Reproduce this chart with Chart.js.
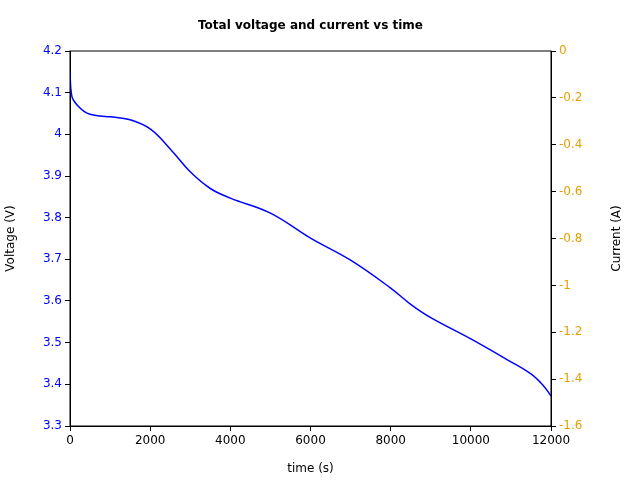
<!DOCTYPE html>
<html>
<head>
<script src="https://cdn.jsdelivr.net/npm/chart.js@4"></script>
<style>body{margin:0;background:#fff}#wrap{width:640px;height:480px}</style>
</head>
<body>
<div id="wrap"><canvas id="myChart"></canvas></div>
<script>
const times = [0, 20, 50, 100, 200, 350, 500, 750, 1000, 1500, 2000, 2500, 3000, 3500, 4000, 5000, 6000, 7000, 8000, 8500, 9000, 10000, 11000, 11500, 11800, 12000];
const voltage = [4.15, 4.11, 4.09, 4.08, 4.068, 4.055, 4.048, 4.044, 4.042, 4.035, 4.013, 3.965, 3.91, 3.87, 3.847, 3.811, 3.751, 3.698, 3.631, 3.592, 3.56, 3.509, 3.454, 3.425, 3.398, 3.372];
const xTicks = [0, 2000, 4000, 6000, 8000, 10000, 12000];

const FONT = 'DejaVu Sans';

// frame around the plot, title and the right axis label (reads bottom to top)
const boxPlugin = {
    id: 'box',
    afterDraw(chart) {
        const a = chart.chartArea, c = chart.ctx;
        c.save();
        c.strokeStyle = '#000';
        c.lineWidth = 1;
        c.strokeRect(a.left, a.top, a.right - a.left, a.bottom - a.top);
        c.fillStyle = '#000';
        c.textAlign = 'center';
        c.textBaseline = 'middle';
        c.font = 'bold 12px ' + FONT;
        c.fillText('Total voltage and current vs time', (a.left + a.right) / 2, 26);
        c.font = '12px ' + FONT;
        c.translate(617, (a.top + a.bottom) / 2);
        c.rotate(-Math.PI / 2);
        c.fillText('Current (A)', 0, 0);
        c.restore();
    }
};

const ctx = document.getElementById('myChart').getContext('2d');
new Chart(ctx, {
    type: 'line',
    data: {
        datasets: [{
            label: 'Voltage',
            data: times.map((t, i) => ({x: t, y: voltage[i]})),
            borderColor: '#0000ff',
            borderWidth: 1.5,
            pointRadius: 0,
            tension: 0.4,
            yAxisID: 'y'
        }]
    },
    options: {
        responsive: true,
        maintainAspectRatio: false,
        animation: false,
        layout: {padding: {left: 0, right: 0, top: 51, bottom: 0}},
        plugins: {legend: {display: false}, title: {display: false}},
        scales: {
            x: {
                type: 'linear', min: 0, max: 12000,
                afterBuildTicks: ax => { ax.ticks = xTicks.map(v => ({value: v})); },
                afterFit: ax => { ax.height = 54; },
                grid: {drawOnChartArea: false, tickLength: 5, color: '#000'},
                border: {color: '#000'},
                ticks: {color: '#000', maxRotation: 0, font: {family: FONT, size: 12}, callback: v => String(v)},
                title: {display: true, text: 'time (s)', color: '#000', font: {family: FONT, size: 12}, padding: {top: 8}}
            },
            y: {
                position: 'left', min: 3.3, max: 4.2,
                afterFit: ax => { ax.width = 70; },
                grid: {drawOnChartArea: false, tickLength: 5, color: '#000'},
                border: {color: '#000'},
                ticks: {stepSize: 0.1, color: '#0000ff', font: {family: FONT, size: 12},
                    callback: v => String(Math.round(v * 10) / 10)},
                title: {display: true, text: 'Voltage (V)', color: '#000', font: {family: FONT, size: 12}}
            },
            y2: {
                position: 'right', min: -1.6, max: 0,
                afterFit: ax => { ax.width = 89; },
                grid: {drawOnChartArea: false, tickLength: 5, color: '#000'},
                border: {color: '#000'},
                ticks: {stepSize: 0.2, color: '#e69f00', font: {family: FONT, size: 12},
                    callback: v => String(Math.round(v * 10) / 10)},
                title: {display: false}
            }
        }
    },
    plugins: [boxPlugin]
});
</script>
</body>
</html>
